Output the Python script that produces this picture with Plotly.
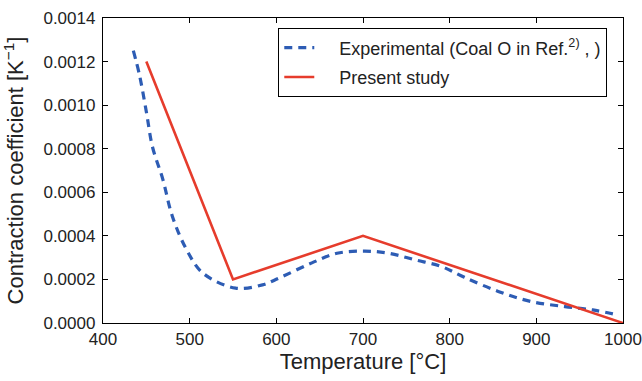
import plotly.graph_objects as go

exp_x = [435, 442, 450, 457, 469, 480, 496, 515, 553, 584, 603, 641, 670, 702, 730, 760, 790, 817, 856, 894, 933, 965, 994]
exp_y = [0.00125, 0.00114, 0.00097, 0.00081, 0.00066, 0.00049, 0.00034, 0.00023, 0.00016, 0.000175, 0.000206, 0.000276, 0.00032, 0.00033, 0.00032, 0.00029, 0.00026, 0.00021, 0.000145, 0.0000985, 0.000075, 0.00006, 0.000037]

study_x = [450, 550, 700, 1000]
study_y = [0.0012, 0.0002, 0.0004, 0.0]

x_ticks = [400, 500, 600, 700, 800, 900, 1000]
y_ticks = [0.0, 0.0002, 0.0004, 0.0006, 0.0008, 0.0010, 0.0012, 0.0014]

FONT = "Liberation Sans"
PAD = "\u00a0" * 4

fig = go.Figure()
fig.add_trace(go.Scatter(x=exp_x, y=exp_y, mode="lines",
                         name=PAD + "Experimental (Coal O in Ref.<sup>2)</sup> , )",
                         legendgroup="a",
                         line=dict(color="#2d5cb4", width=3.2, dash="8px,6px"),
                         line_shape="spline"))
fig.add_trace(go.Scatter(x=study_x, y=study_y, mode="lines", name=PAD + "Present study",
                         legendgroup="b",
                         line=dict(color="#e63c2c", width=2.6)))

axis_common = dict(showline=True, linecolor="black", linewidth=1.3, mirror="ticks",
                   ticks="inside", ticklen=5, tickwidth=1, tickcolor="black",
                   showgrid=False, zeroline=False, automargin=False,
                   tickfont=dict(family=FONT, size=17, color="#222"))

fig.update_layout(
    width=642, height=381,
    margin=dict(l=103, r=19, t=18, b=58),
    plot_bgcolor="white", paper_bgcolor="white",
    font=dict(family=FONT, color="#222"),
    xaxis=dict(range=[400, 1000], tickvals=x_ticks,
               title=dict(text="Temperature [°C]", font=dict(size=22), standoff=3),
               **axis_common),
    yaxis=dict(range=[0, 0.0014], tickvals=y_ticks, tickformat=".4f",
               ticklabelstandoff=3,
               title=dict(text="Contraction coefficient [K<sup>−1</sup>]", font=dict(size=22), standoff=14),
               **axis_common),
    legend=dict(x=0.3365, y=0.967, xanchor="left", yanchor="top",
                bordercolor="black", borderwidth=1.3, bgcolor="white",
                font=dict(family=FONT, size=18, color="#222"),
                traceorder="grouped", tracegroupgap=3,
                itemwidth=30),
    showlegend=True,
)

fig.write_html("out.html", config={"displayModeBar": False},
               post_script="document.body.style.margin='0';")
